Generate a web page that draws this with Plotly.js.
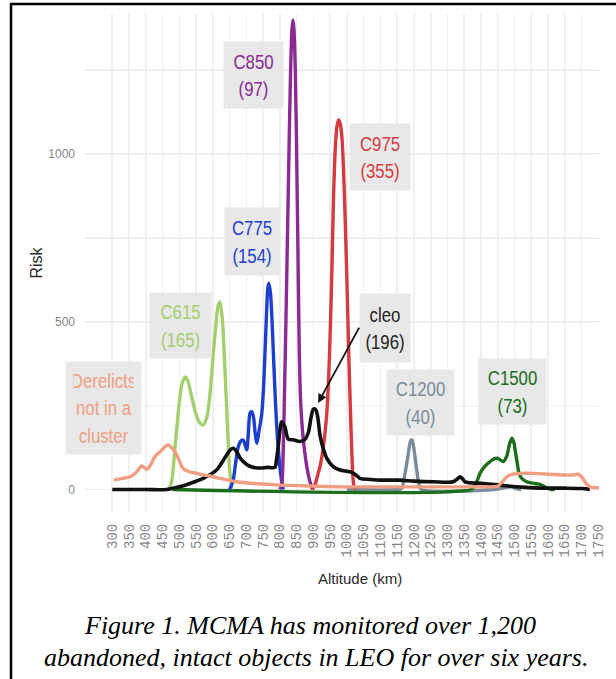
<!DOCTYPE html>
<html><head><meta charset="utf-8">
<script src="https://cdn.plot.ly/plotly-3.0.1.min.js"></script>
<style>html,body{margin:0;padding:0;background:#fff;} #chart{width:616px;height:679px;}</style>
</head><body><div id="chart"></div>
<script>
// ---------- data ----------
const derelictsAlt  = [305, 330, 353, 370, 388, 403, 415, 427, 445, 458, 467, 477, 487, 500, 512, 530, 552, 575, 601, 635, 671, 720, 801, 900, 980, 1100, 1200, 1300, 1400, 1450, 1465, 1480, 1495, 1520, 1556, 1600, 1656, 1680, 1690, 1700, 1712, 1725, 1752];
const derelictsRisk = [28, 33, 38, 50, 70, 60, 75, 98, 115, 128, 133, 125, 113, 85, 62, 53, 48, 43, 38, 30, 23, 18, 13, 10, 8, 8, 8, 8, 8, 10, 25, 40, 46, 48, 48, 46, 43, 44, 46, 38, 20, 8, 5];

const c615Alt  = [470, 478, 485, 492, 500, 508, 517, 525, 535, 548, 560, 571, 582, 592, 600, 608, 615, 621, 628, 636, 644, 650, 656];
const c615Risk = [0, 30, 100, 177, 260, 315, 335, 325, 285, 230, 200, 192, 215, 290, 390, 480, 545, 559, 510, 360, 180, 60, 0];

const c775Alt  = [650, 660, 668, 676, 684, 691, 701, 706, 711, 716, 721, 726, 731, 737, 746, 752, 758, 764, 767, 772, 778, 785, 793, 802, 810];
const c775Risk = [0, 25, 80, 128, 145, 147, 118, 170, 228, 232, 217, 170, 138, 170, 227, 320, 470, 600, 615, 585, 470, 300, 150, 50, 0];

const c850Alt  = [800, 806, 810, 814, 818, 822, 827, 832, 836, 839, 842, 846, 850, 854, 858, 862, 867, 873, 880, 888, 897];
const c850Risk = [0, 20, 120, 300, 500, 720, 1000, 1250, 1370, 1399, 1370, 1250, 1000, 700, 400, 260, 180, 120, 70, 30, 0];

const c975Alt  = [897, 905, 912, 920, 930, 940, 948, 955, 960, 965, 970, 975, 980, 985, 990, 995, 1000, 1005, 1010, 1015, 1020, 1025];
const c975Risk = [0, 15, 40, 70, 130, 230, 400, 650, 870, 1010, 1080, 1101, 1090, 1050, 950, 800, 620, 420, 250, 100, 15, 0];

const cleoAlt  = [300, 400, 462, 500, 532, 571, 611, 630, 641, 652, 661, 671, 681, 691, 705, 721, 745, 761, 785, 790, 795, 800, 805, 810, 815, 825, 840, 860, 875, 885, 893, 900, 907, 913, 920, 930, 940, 959, 979, 1009, 1025, 1039, 1070, 1099, 1158, 1200, 1258, 1317, 1330, 1337, 1345, 1352, 1407, 1457, 1506, 1556, 1650, 1700, 1715, 1725];
const cleoRisk = [0, 0, 0, 8, 18, 33, 58, 85, 103, 118, 123, 113, 95, 83, 72, 66, 64, 66, 66, 90, 128, 175, 202, 195, 187, 150, 148, 143, 150, 170, 215, 240, 238, 215, 160, 120, 93, 68, 58, 53, 45, 33, 30, 28, 28, 25, 23, 23, 32, 38, 32, 23, 18, 13, 8, 5, 4, 3, 2, 0];

const c1200Alt  = [1000, 1150, 1163, 1172, 1182, 1190, 1194, 1200, 1208, 1215, 1222, 1440, 1470, 1490, 1505, 1520];
const c1200Risk = [0, 0, 3, 40, 100, 145, 148, 120, 60, 15, 0, 0, 5, 8, 3, 0];

const c1500Alt  = [480, 1370, 1380, 1390, 1397, 1412, 1427, 1440, 1447, 1455, 1467, 1477, 1485, 1492, 1498, 1503, 1508, 1513, 1520, 1536, 1560, 1576, 1590, 1610, 1620];
const c1500Risk = [0, 0, 10, 30, 48, 70, 83, 92, 93, 90, 83, 100, 135, 153, 140, 110, 80, 50, 35, 23, 18, 15, 8, 0, 0];

const xTickVals = [300,350,400,450,500,550,600,650,700,750,800,850,900,950,1000,1050,1100,1150,1200,1250,1300,1350,1400,1450,1500,1550,1600,1650,1700,1750];
const xTickText = xTickVals.map(String);
const yTickVals = [0, 250, 500, 750, 1000, 1250];
const yTickText = ['0', '', '500', '', '1000', ''];

const labelTexts = ['C850<br>(97)', 'C975<br>(355)', 'C775<br>(154)', 'C615<br>(165)', 'cleo<br>(196)', 'Derelicts<br>not in a<br>cluster', 'C1200<br>(40)', 'C1500<br>(73)'];

// ---------- styling ----------
const COLORS = {
  derelicts: '#EF9E80', c615: '#A3CF6C', c775: '#1D3FD0', c850: '#8B2A93',
  c975: '#D63A3F', cleo: '#111111', c1200: '#7A8B9B', c1500: '#1B6E1B'
};
function line(x, y, color, w) {
  return {x: x, y: y, type: 'scatter', mode: 'lines', hoverinfo: 'skip',
          line: {color: color, width: w || 3.4, shape: 'spline', smoothing: 0.8}};
}
const traces = [
  line(c1200Alt, c1200Risk, COLORS.c1200),
  line(c1500Alt, c1500Risk, COLORS.c1500),
  line(c615Alt, c615Risk, COLORS.c615),
  line(c775Alt, c775Risk, COLORS.c775),
  line(c850Alt, c850Risk, COLORS.c850),
  line(c975Alt, c975Risk, COLORS.c975),
  line(cleoAlt, cleoRisk, COLORS.cleo, 3.6),
  line(derelictsAlt, derelictsRisk, COLORS.derelicts)
];

const annoFont = 'Liberation Sans, Arial, sans-serif';
const NLABELS = labelTexts.length;
function label(i, x, y, w, h, color) {
  return {x: x, y: y, xref: 'x', yref: 'y', text: labelTexts[i], showarrow: false,
          bgcolor: '#E8E8E8', width: w, height: h, borderpad: 0,
          font: {family: annoFont, size: 21, color: color}, align: 'center', valign: 'middle'};
}
function paperText(text, x, y, font) {
  return {x: x, y: y, xref: 'paper', yref: 'paper', xanchor: 'center', yanchor: 'middle',
          text: text, showarrow: false, font: font};
}

const serif = {family: 'Liberation Serif, Times New Roman, serif', size: 26, color: '#000'};
const annotations = [
  label(0, 721, 1234, 59, 66, COLORS.c850),
  label(1, 1100, 991, 60, 66, COLORS.c975),
  label(2, 717, 739, 54, 67, COLORS.c775),
  label(3, 503, 489, 61, 65, COLORS.c615),
  label(4, 1115, 481, 50, 68, '#222222'),
  label(5, 274, 243, 75, 92, COLORS.derelicts),
  label(6, 1219, 259, 67, 65, COLORS.c1200),
  label(7, 1493, 292, 67, 65, COLORS.c1500),
  {x: 914, y: 258, ax: 1039, ay: 487, axref: 'x', ayref: 'y', xref: 'x', yref: 'y',
   text: '', showarrow: true, arrowhead: 2, arrowsize: 1, arrowwidth: 1.8, arrowcolor: '#111'},
  paperText('Altitude (km)', 0.536, -0.1345, {family: 'Liberation Sans, Arial, sans-serif', size: 15, color: '#2b2b2b'}),
  paperText('<i>Figure 1. MCMA has monitored over 1,200</i>', 0.4388, -0.2289, serif),
  paperText('<i>abandoned, intact objects in LEO for over six years.</i>', 0.4505, -0.2912, serif)
];

const shapes = [
  {type: 'line', xref: 'paper', yref: 'paper', x0: -0.1417, x1: -0.1417, y0: -0.336, y1: 1.0221, line: {color: '#000', width: 2.5}},
  {type: 'line', xref: 'paper', yref: 'paper', x0: -0.1437, x1: 1.04, y0: 1.0201, y1: 1.0201, line: {color: '#000', width: 2.5}}
];

const layout = {
  width: 616, height: 679,
  margin: {l: 84, r: 17, t: 14, b: 167, pad: 0},
  paper_bgcolor: '#fff', plot_bgcolor: '#fff', showlegend: false,
  font: {family: 'Liberation Sans, Arial, sans-serif', color: '#333'},
  xaxis: {range: [215.6, 1752], tickmode: 'array', tickvals: xTickVals, ticktext: xTickText,
          tickangle: -90, tickfont: {family: 'Liberation Mono, DejaVu Sans Mono, monospace', size: 14, color: '#858585'},
          showgrid: true, gridcolor: '#EFEFEF', gridwidth: 1.6, zeroline: false, showline: false,
          ticks: '', ticklabelstandoff: 8, fixedrange: true},
  yaxis: {range: [-67, 1417], tickmode: 'array', tickvals: yTickVals, ticktext: yTickText,
          tickfont: {family: 'Liberation Sans, Arial, sans-serif', size: 12, color: '#858585'},
          showgrid: true, gridcolor: '#EFEFEF', gridwidth: 1.6, zeroline: false, showline: false,
          ticks: '', ticklabelstandoff: 8, fixedrange: true,
          title: {text: 'Risk', font: {size: 16, color: '#2b2b2b'}, standoff: 1}},
  annotations: annotations, shapes: shapes
};

Plotly.newPlot('chart', traces, layout, {staticPlot: true, displayModeBar: false}).then(function (gd) {
  // the reference uses a condensed face for the cluster labels: narrow the text horizontally
  gd.querySelectorAll('g.annotation').forEach(function (g) {
    const idx = +g.getAttribute('data-index');
    if (idx >= NLABELS) return;
    const t = g.querySelector('text.annotation-text');
    if (!t) return;
    const cx = parseFloat(t.getAttribute('x')) || 0;
    t.setAttribute('transform', 'translate(' + cx + ',0) scale(0.8,1) translate(' + (-cx) + ',0)');
  });
});
</script>
</body></html>
